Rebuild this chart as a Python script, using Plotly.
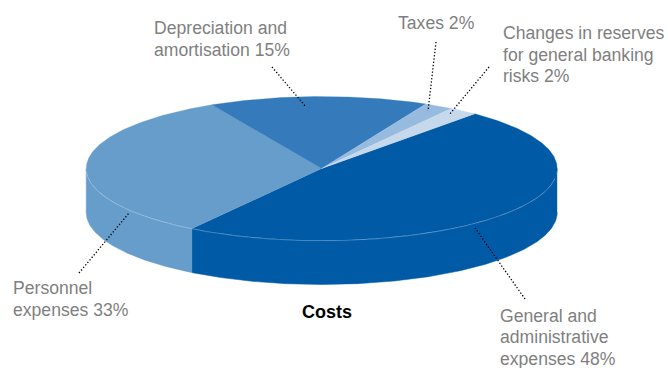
import numpy as np
import plotly.graph_objects as go

# Cost breakdown, in percent, listed clockwise from the start of the first slice
categories = ["General and administrative expenses", "Personnel expenses",
              "Depreciation and amortisation", "Taxes",
              "Changes in reserves for general banking risks"]
shares = [48, 33, 15, 2, 2]
slice_labels = [["General and", "administrative", "expenses 48%"],
                ["Personnel", "expenses 33%"],
                ["Depreciation and", "amortisation 15%"],
                ["Taxes 2%"],
                ["Changes in reserves", "for general banking", "risks 2%"]]
title_text = "Costs"

colors = ["#005AA6", "#679DCB", "#357ABA", "#97BBDF", "#C6D9EC"]
TEXT_GREY = "#7F7F7F"
FONT = "Liberation Sans, Arial, sans-serif"
FONT_SIZE = 17.6
LINE_STEP = 21.7

# Projected disc geometry, in plot units (one unit per pixel)
CX, CY = 321.7, 168.5
RX, RY = 235.5, 72.0
DEPTH = 44.0
START_DEG = 49.4


def rim(a0, a1, drop=0.0):
    t = np.radians(np.linspace(a0, a1, max(int(abs(a1 - a0) * 2), 3)))
    return CX + RX * np.cos(t), CY - RY * np.sin(t) + drop


fig = go.Figure()
spans = []
angle = START_DEG
for share in shares:
    sweep = share * 3.6
    spans.append((angle, angle - sweep))
    angle -= sweep

# Outer wall: only the part facing the viewer (angles between 0 and -180)
for (a0, a1), color in zip(spans, colors):
    front0, front1 = min(a0, 0), max(a1, -180)
    if front0 <= front1:
        continue
    x_top, y_top = rim(front0, front1)
    x_bot, y_bot = rim(front1, front0, DEPTH)
    fig.add_trace(go.Scatter(x=np.r_[x_top, x_bot], y=np.r_[y_top, y_bot], mode="lines",
                             line=dict(width=0.5, color=color), fill="toself", fillcolor=color,
                             hoverinfo="skip", showlegend=False))

# Top face of every slice
for (a0, a1), color, name in zip(spans, colors, categories):
    x_arc, y_arc = rim(a0, a1)
    fig.add_trace(go.Scatter(x=np.r_[CX, x_arc, CX], y=np.r_[CY, y_arc, CY], mode="lines",
                             line=dict(width=0.3, color=color), fill="toself", fillcolor=color,
                             name=name, hoverinfo="name", showlegend=False))

# Faint highlight where the top face meets the wall
x_edge, y_edge = rim(-8, -178)
fig.add_trace(go.Scatter(x=x_edge, y=y_edge + 0.3, mode="lines",
                         line=dict(width=0.8, color="rgba(255,255,255,0.3)"),
                         hoverinfo="skip", showlegend=False))

# Each label line is placed on its own so the leading stays tight
first_lines = [(498, 315.5), (11, 288), (152, 28), (396, 22.5), (501, 33)]
annotations = []
for lines, (x, y) in zip(slice_labels, first_lines):
    for i, line in enumerate(lines):
        annotations.append(dict(x=x, y=y + i * LINE_STEP, text=line, xref="x", yref="y",
                                showarrow=False, xanchor="left", yanchor="middle",
                                font=dict(family=FONT, size=FONT_SIZE, color=TEXT_GREY)))
annotations.append(dict(x=327, y=312, text="<b>" + title_text + "</b>", xref="x", yref="y",
                        showarrow=False, xanchor="center", yanchor="middle",
                        font=dict(family=FONT, size=18, color="#000000")))

# Dotted leader lines from the labels into the slices
leaders = [(525, 299, 475, 228), (79, 273, 129, 213), (272, 67, 306, 107),
           (436, 42, 428, 111), (489, 67, 449, 115)]
shapes = [dict(type="line", x0=x0, y0=y0, x1=x1, y1=y1, xref="x", yref="y",
               line=dict(color="#000000", width=1.3, dash="1.3px,2px"))
          for x0, y0, x1, y1 in leaders]

fig.update_layout(
    width=668, height=368, margin=dict(l=0, r=0, t=0, b=0),
    paper_bgcolor="white", plot_bgcolor="white", showlegend=False,
    xaxis=dict(range=[0, 668], visible=False, fixedrange=True),
    yaxis=dict(range=[368, 0], visible=False, fixedrange=True),
    annotations=annotations, shapes=shapes,
)
fig.write_html("out.html", config=dict(displayModeBar=False))
